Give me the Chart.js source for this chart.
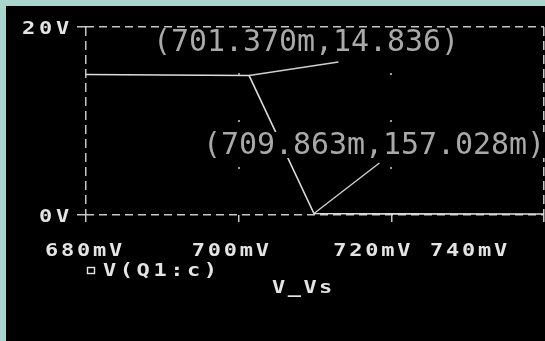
<!DOCTYPE html>
<html lang="en">
<head>
<meta charset="UTF-8">
<title>V(Q1:c) vs V_Vs</title>
<script src="https://cdn.jsdelivr.net/npm/chart.js"></script>
<style>
    body {
        margin: 0;
        width: 545px;
        height: 341px;
        background-color: #a9d5cc;
        overflow: hidden;
    }
    #plot {
        position: absolute;
        left: 6px;
        top: 6px;
        width: 539px;
        height: 335px;
        background-color: #000;
    }
    canvas { display: block; }
</style>
</head>
<body>
<div id="plot">
    <canvas id="probeChart" width="539" height="335"></canvas>
</div>
<script>
// DC sweep: source V_Vs (mV) against collector voltage V(Q1:c) (V)
const sweepMv = [680, 690, 701.370, 709.863, 720, 740];
const collectorV = [14.95, 14.9, 14.836, 0.157028, 0.12, 0.1];

// cursor readouts
const cursorMv = [701.370, 709.863];
const cursorV = [14.836, 0.157028];

const xTicks = [680, 700, 720, 740];
const xTickLabels = ['680mV', '700mV', '720mV', '740mV'];
const yTicks = [0, 20];
const yTickLabels = ['0V', '20V'];
const traceName = 'V(Q1:c)';
const sweepName = 'V_Vs';

const GRID = '#c6c6c6';
const INK = '#e4e4e4';
const PIXEL_FONT = 'bold 18px "DejaVu Sans Mono", monospace';
const CURSOR_FONT = '30px "DejaVu Sans Mono", monospace';

// probe font: fixed advance, each glyph stretched a little wider
function drawSpaced(ctx, text, x, y, adv, stretch) {
    const sx = stretch || 1;
    for (let i = 0; i < text.length; i++) {
        ctx.save();
        ctx.translate(x + i * adv, y);
        ctx.scale(sx, 1);
        ctx.fillText(text[i], 0, 0);
        ctx.restore();
    }
}

function fmtMilli(v) {
    return v.toFixed(3) + 'm';
}
function fmtVolt(v) {
    return v < 1 ? (v * 1000).toFixed(3) + 'm' : v.toFixed(3);
}

// where each cursor label sits and which char its leader hits
const cursorLayout = [
    { left: 147, mid: 36, hitChar: 10.3, drop: 20 },
    { left: 197, mid: 139, hitChar: 9.8, drop: 18 }
];

const probeDecor = {
    id: 'probeDecor',
    afterDatasetsDraw(chart) {
        const ctx = chart.ctx;
        const xs = chart.scales.x, ys = chart.scales.y;
        ctx.save();

        // sparse dot grid at the inner divisions
        ctx.fillStyle = '#9a9a9a';
        [700, 720].forEach(xv => {
            [5, 10, 15].forEach(yv => {
                ctx.fillRect(Math.round(xs.getPixelForValue(xv)) - 1, Math.round(ys.getPixelForValue(yv)) - 1, 2, 2);
            });
        });

        ctx.font = CURSOR_FONT;
        ctx.textBaseline = 'middle';
        const adv = 18;
        const labels = cursorMv.map((mx, i) => {
            const text = '(' + fmtMilli(mx) + ',' + fmtVolt(cursorV[i]) + ')';
            const lay = cursorLayout[i];
            return { text, lay, px: xs.getPixelForValue(mx), py: ys.getPixelForValue(cursorV[i]) };
        });

        // leader lines
        ctx.strokeStyle = '#d0d0d0';
        ctx.lineWidth = 1.4;
        labels.forEach(l => {
            ctx.beginPath();
            ctx.moveTo(l.px, l.py);
            ctx.lineTo(l.lay.left + l.lay.hitChar * adv, l.lay.mid + l.lay.drop);
            ctx.stroke();
        });

        // label text on a black backing
        labels.forEach(l => {
            const w = l.text.length * adv;
            ctx.fillStyle = '#000';
            ctx.fillRect(l.lay.left - 2, l.lay.mid - 13, w + 4, 26);
            ctx.fillStyle = '#a9a9a9';
            drawSpaced(ctx, l.text, l.lay.left, l.lay.mid + 1, adv);
        });
        ctx.restore();
    },
    afterDraw(chart) {
        const ctx = chart.ctx;
        const xs = chart.scales.x, ys = chart.scales.y;
        ctx.save();
        ctx.font = PIXEL_FONT;
        ctx.fillStyle = INK;
        ctx.textBaseline = 'middle';
        ctx.textAlign = 'left';

        // y tick labels, right edge 18px left of the axis
        yTicks.forEach((v, i) => {
            const t = yTickLabels[i];
            const right = chart.chartArea.left - 18;
            drawSpaced(ctx, t, right - (t.length - 1) * 17 - 12, ys.getPixelForValue(v) + 2, 17, 1.22);
        });

        // x tick labels, nudged left so the last one fits
        const shift = [-41, -47, -58, -114];
        xTicks.forEach((v, i) => {
            drawSpaced(ctx, xTickLabels[i], xs.getPixelForValue(v) + shift[i], chart.chartArea.bottom + 36, 16, 1.22);
        });

        // trace legend
        const lx = chart.chartArea.left + 1;
        const ly = chart.chartArea.bottom + 56;
        ctx.strokeStyle = INK;
        ctx.lineWidth = 1.4;
        ctx.strokeRect(lx + 0.5, ly - 3.5, 7, 6);
        drawSpaced(ctx, traceName, lx + 16, ly, 16.8, 1.22);

        // sweep variable
        drawSpaced(ctx, sweepName, 266, chart.chartArea.bottom + 73, 15.7, 1.22);
        ctx.restore();
    }
};

const ctx = document.getElementById('probeChart').getContext('2d');
new Chart(ctx, {
    type: 'line',
    data: {
        datasets: [{
            label: traceName,
            data: sweepMv.map((x, i) => ({ x: x, y: collectorV[i] })),
            borderColor: '#dcdcdc',
            borderWidth: 1.6,
            pointRadius: 0,
            tension: 0
        }]
    },
    options: {
        responsive: false,
        animation: false,
        layout: { padding: { top: 21, right: 1, left: 0, bottom: 0 } },
        plugins: {
            legend: { display: false },
            tooltip: { enabled: false }
        },
        scales: {
            x: {
                type: 'linear',
                min: 680,
                max: 740,
                afterBuildTicks: s => { s.ticks = xTicks.map(v => ({ value: v })); },
                afterFit: s => { s.height = 126; },
                ticks: { display: false },
                border: { display: false, dash: [9, 5] },
                grid: {
                    color: c => (c.tick && (c.tick.value === 680 || c.tick.value === 740)) ? GRID : 'rgba(0,0,0,0)',
                    lineWidth: 1.5,
                    drawTicks: true,
                    tickLength: 7,
                    tickColor: GRID,
                    tickWidth: 1.5,
                    tickBorderDash: []
                }
            },
            y: {
                min: 0,
                max: 20,
                afterBuildTicks: s => { s.ticks = yTicks.map(v => ({ value: v })); },
                afterFit: s => { s.width = 80; },
                ticks: { display: false },
                border: { display: false, dash: [8, 5] },
                grid: {
                    color: GRID,
                    lineWidth: 1.5,
                    drawTicks: true,
                    tickLength: 9,
                    tickColor: GRID,
                    tickWidth: 1.5,
                    tickBorderDash: []
                }
            }
        }
    },
    plugins: [probeDecor]
});
</script>
</body>
</html>
